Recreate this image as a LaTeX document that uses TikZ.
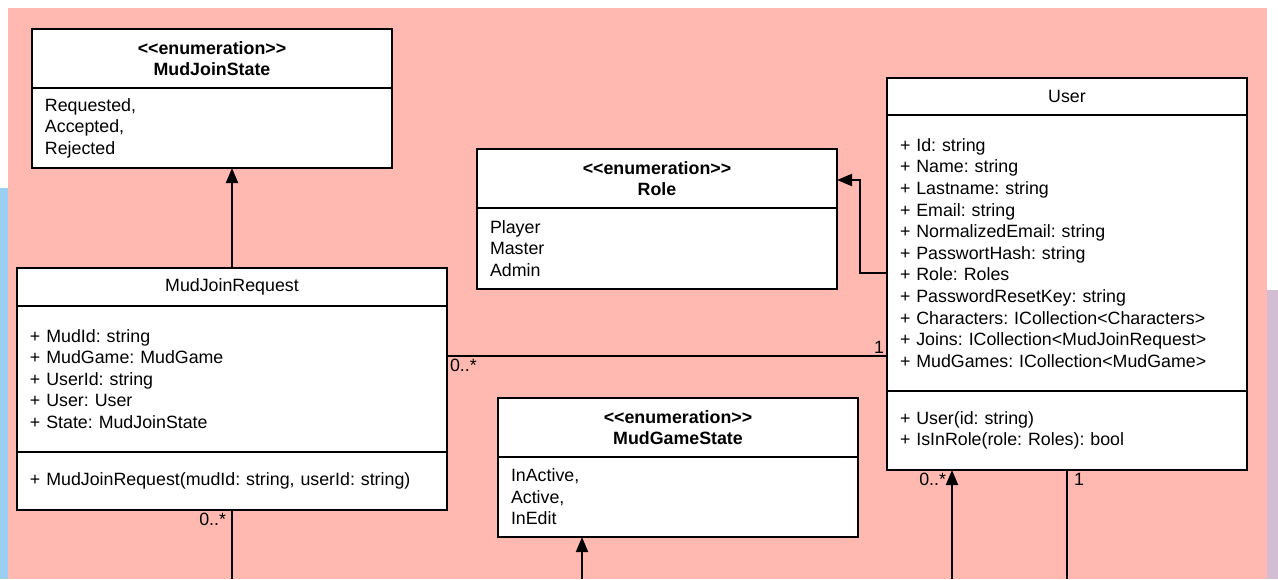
\documentclass[tikz,border=0pt]{standalone}
\usepackage{fontspec}
\newfontfamily\umlfont{Liberation Sans}
\usetikzlibrary{arrows.meta,positioning}

\definecolor{pinkbg}{HTML}{FFB9B0}
\definecolor{bluebg}{HTML}{9ACFF1}
\definecolor{lilacbg}{HTML}{D2BDD4}
\newcommand{\umlsize}{\fontsize{17.8pt}{21.6pt}\selectfont\frenchspacing}

\tikzset{
  box/.style={draw,line width=2pt,fill=white,anchor=north west,outer sep=0pt,
    inner xsep=13pt,inner ysep=0pt,minimum width=360pt,text width=334pt,
    align=left,font=\umlfont\umlsize},
  wide/.style={minimum width=430pt,text width=404pt},
  head/.style={box,align=center},
  enumhead/.style={head,font=\umlfont\umlsize\bfseries},
  line/.style={line width=2pt},
  arr/.style={line,-{Triangle[length=15pt,width=12pt]}},
  mult/.style={font=\umlfont\umlsize,inner sep=2pt}
}

\begin{document}
\begin{tikzpicture}[x=1pt,y=-1pt]
\useasboundingbox (0,0) rectangle (1278,579);

\fill[bluebg] (0,188) rectangle (20,579);
\fill[lilacbg] (1250,290) rectangle (1278,579);
\fill[pinkbg] (8,8) rectangle (1267,579);

% enumerations
\node[enumhead,minimum height=59pt] (mjshead) at (32,29) {<<enumeration>>\\MudJoinState};
\node[box,minimum height=80pt,below=0pt of mjshead] (mjsbody) {Requested,\\Accepted,\\Rejected};

\node[enumhead,minimum height=59pt] (rolehead) at (477,149) {<<enumeration>>\\Role};
\node[box,minimum height=81pt,below=0pt of rolehead] (rolebody) {Player\\Master\\Admin};

\node[enumhead,minimum height=59pt] (mgshead) at (498,398) {<<enumeration>>\\MudGameState};
\node[box,minimum height=80pt,below=0pt of mgshead] (mgsbody) {InActive,\\Active,\\InEdit};

% classes
\node[head,minimum height=37pt] (userhead) at (887,78) {User};
\node[box,minimum height=276pt,below=0pt of userhead] (userattr) {+ Id: string\\
  + Name: string\\+ Lastname: string\\+ Email: string\\+ NormalizedEmail: string\\
  + PasswortHash: string\\+ Role: Roles\\+ PasswordResetKey: string\\
  + Characters: ICollection<Characters>\\+ Joins: ICollection<MudJoinRequest>\\
  + MudGames: ICollection<MudGame>};
\node[box,minimum height=79pt,below=0pt of userattr] (usermeth) {+ User(id: string)\\+ IsInRole(role: Roles): bool};

\node[head,wide,minimum height=38pt] (mjrhead) at (17,268) {MudJoinRequest};
\node[box,wide,minimum height=146pt,below=0pt of mjrhead] (mjrattr) {+ MudId: string\\
  + MudGame: MudGame\\+ UserId: string\\+ User: User\\+ State: MudJoinState};
\node[box,wide,minimum height=58pt,below=0pt of mjrattr] (mjrmeth) {+ MudJoinRequest(mudId: string, userId: string)};

% connectors
\draw[arr] (mjrhead.north) -- (mjrhead.north |- mjsbody.south);
\draw[arr] (userattr.west |- 0,273) -- ++(-27,0) |- (rolehead.east |- 0,180);
\draw[line] (mjrattr.east |- 0,356) -- (userattr.west |- 0,356)
  node[mult,pos=0,below right] {0..*}
  node[mult,pos=1,above left] {1};

\coordinate (mjrout) at (232,579);
\coordinate (mgsin) at (582,579);
\coordinate (userin) at (952,579);
\coordinate (userout) at (1067,579);
\draw[line] (mjrmeth.south -| mjrout) -- (mjrout)
  node[mult,pos=0,below left,xshift=-3pt] {0..*};
\draw[arr] (mgsin) -- (mgsin |- mgsbody.south);
\draw[arr] (userin) -- (userin |- usermeth.south)
  node[mult,pos=1,below left,xshift=-3pt] {0..*};
\draw[line] (usermeth.south -| userout) -- (userout)
  node[mult,pos=0,below right,xshift=4pt] {1};

\end{tikzpicture}
\end{document}
